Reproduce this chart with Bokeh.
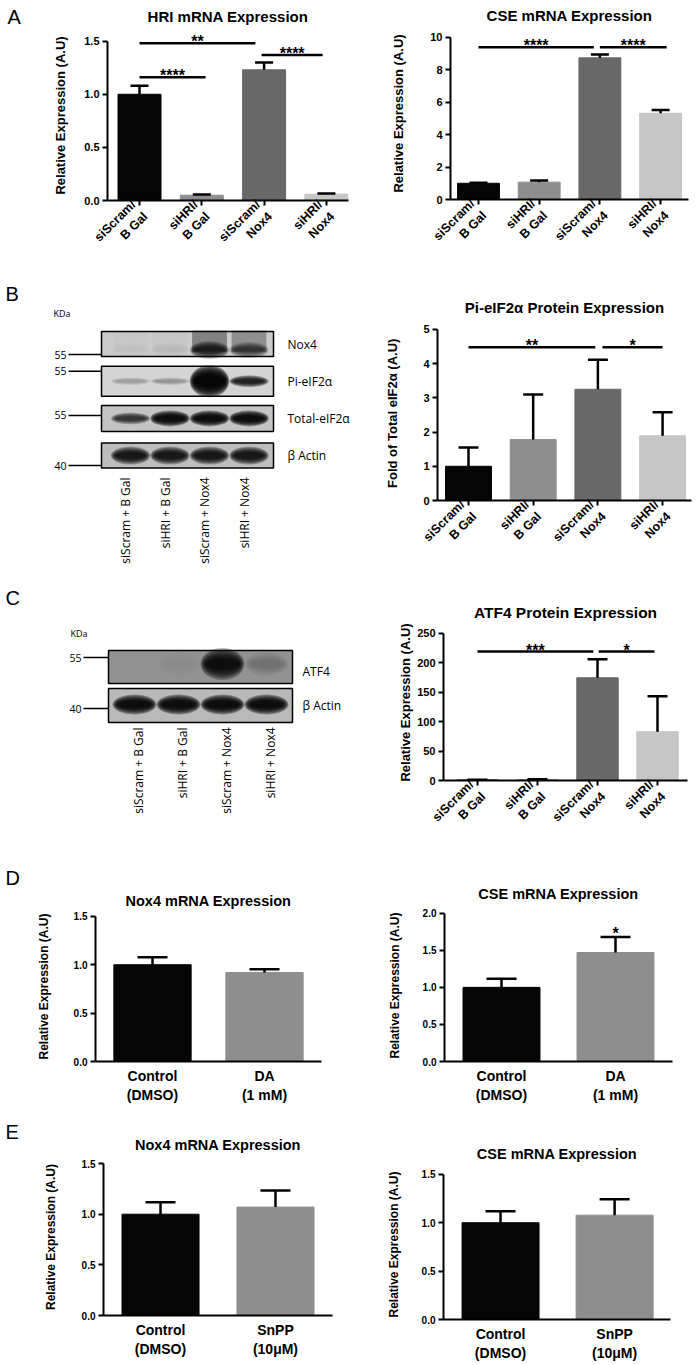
import math
from bokeh.plotting import figure
from bokeh.models import Range1d, FixedTicker, NumeralTickFormatter, ColumnDataSource
from bokeh.layouts import column, row
from bokeh.core.properties import value
from bokeh.embed import file_html
from bokeh.resources import INLINE

# ---------------- data ----------------
sirna_groups = ["siScram/\nB Gal", "siHRI/\nB Gal", "siScram/\nNox4", "siHRI/\nNox4"]
hri_mrna = [1.00, 0.05, 1.23, 0.06]
hri_mrna_sem = [0.08, 0.006, 0.07, 0.006]
cse_mrna_sirna = [1.00, 1.07, 8.73, 5.31]
cse_mrna_sirna_sem = [0.03, 0.10, 0.21, 0.20]
pi_eif2a = [1.00, 1.78, 3.25, 1.89]
pi_eif2a_sem = [0.55, 1.32, 0.86, 0.69]
atf4_protein = [0.8, 1.2, 174.5, 83.0]
atf4_protein_sem = [0.3, 0.9, 31.5, 60.0]

da_groups = ["Control\n(DMSO)", "DA\n(1 mM)"]
nox4_mrna_da = [1.00, 0.92]
nox4_mrna_da_sem = [0.076, 0.032]
cse_mrna_da = [1.00, 1.47]
cse_mrna_da_sem = [0.117, 0.21]

snpp_groups = ["Control\n(DMSO)", "SnPP\n(10\u03bcM)"]
nox4_mrna_snpp = [1.00, 1.07]
nox4_mrna_snpp_sem = [0.118, 0.163]
cse_mrna_snpp = [1.00, 1.078]
cse_mrna_snpp_sem = [0.118, 0.164]

# significance brackets: (from group, to group, height, label)
hri_sig = [(0.0, 1.06, 1.16, "****"), (0.0, 1.86, 1.48, "**"), (1.96, 2.94, 1.37, "****")]
cse_sirna_sig = [(0.0, 1.9, 9.39, "****"), (2.0, 3.1, 9.39, "****")]
pi_sig = [(0.0, 1.96, 4.48, "**"), (2.07, 3.0, 4.48, "*")]
atf4_sig = [(0.0, 1.93, 219.0, "***"), (2.02, 2.95, 219.0, "*")]
cse_da_star = [(1, 1.72, "*")]

panel_letters = ["A", "B", "C", "D", "E"]

blot_lanes = ["siScram + B Gal", "siHRI + B Gal", "siScram + Nox4", "siHRI + Nox4"]
blot_b_proteins = ["Nox4", "Pi-eIF2\u03b1", "Total-eIF2\u03b1", "\u03b2 Actin"]
blot_b_kda = ["55", "55", "55", "40"]
nox4_band = [0.04, 0.05, 0.80, 0.65]
pi_eif2a_band = [0.25, 0.30, 1.00, 0.85]
total_eif2a_band = [0.75, 0.95, 0.95, 0.95]
actin_b_band = [0.90, 0.90, 0.90, 0.90]
blot_c_proteins = ["ATF4", "\u03b2 Actin"]
blot_c_kda = ["55", "40"]
atf4_band = [0.0, 0.02, 0.92, 0.20]
actin_c_band = [0.95, 0.95, 0.95, 0.95]

# ---------------- style ----------------
FONT = "Liberation Sans"
BFONT = "Open Sans"
BAR_COLORS = ["#050505", "#8e8e8e", "#686868", "#c6c6c6"]
LETTER_W = 22
LX = LETTER_W      # left edge of the left-hand panels (page starts at 0)
MID = 358          # split between left and right panels
RX = 698           # right edge


def base_fig(w, h, xr, yr, **kw):
    p = figure(width=w, height=h, x_range=Range1d(*xr), y_range=Range1d(*yr),
               output_backend="svg", toolbar_location=None, frame_align=False, **kw)
    p.outline_line_color = None
    return p


def letter_fig(y0, y1, letter, lx, ly):
    h = y1 - y0
    p = base_fig(LETTER_W, h, (0, LETTER_W), (h, 0), x_axis_type=None, y_axis_type=None,
                 min_border=0, title=None)
    p.text(x=[lx], y=[ly - y0], text=[letter], text_align="left", text_baseline="middle",
           text_font=value(FONT), text_font_size="20px", text_color="black")
    return p


def bar_chart(box, frame, xr, y_end, yticks, y_bound, fmt, groups, means, sems,
              bar_w, cap_px, ylabel, ylab_size, ylab_standoff, tick_size,
              title, title_standoff, rotate, xlab_size, x_tick_out, sigs=(), stars=(),
              title_size="15px", title_offset=0):
    x0, y0, x1, y1 = box
    fl, ft, fr, fb = frame
    p = base_fig(x1 - x0, y1 - y0, xr, (0, y_end),
                 min_border_left=fl - x0, min_border_right=x1 - fr,
                 min_border_top=ft - y0, min_border_bottom=y1 - fb, title=title)
    p.grid.visible = False
    p.title.align = "center"
    p.title.text_font = FONT
    p.title.text_font_style = "bold"
    p.title.text_font_size = title_size
    p.title.text_color = "black"
    p.title.standoff = title_standoff
    p.title.offset = title_offset
    sx = (fr - fl) / (xr[1] - xr[0])
    sy = (fb - ft) / y_end

    n = len(groups)
    xs = list(range(n))
    ch = cap_px / 2 / sx
    src = ColumnDataSource(dict(
        x=xs, top=means, color=BAR_COLORS[:n],
        up=[m + e for m, e in zip(means, sems)],
        cl=[x - ch for x in xs], cr=[x + ch for x in xs]))
    p.vbar(x="x", top="top", width=bar_w, fill_color="color", line_color="color", source=src)
    p.segment(x0="x", y0="top", x1="x", y1="up", line_color="black", line_width=2.5, source=src)
    p.segment(x0="cl", y0="up", x1="cr", y1="up", line_color="black", line_width=2.5, source=src)

    for a, b, h, t in sigs:
        p.segment(x0=[a], y0=[h], x1=[b], y1=[h], line_color="black", line_width=2.5)
        p.text(x=[(a + b) / 2], y=[h + 1.5 / sy], text=[t], text_align="center",
               text_baseline="alphabetic", text_font=value(FONT), text_font_style="bold",
               text_font_size="16px", text_color="black")
    for gx, h, t in stars:
        p.text(x=[gx], y=[h], text=[t], text_align="center", text_baseline="alphabetic",
               text_font=value(FONT), text_font_style="bold", text_font_size="16px",
               text_color="black")

    ya = p.yaxis[0]
    xa = p.xaxis[0]
    ya.ticker = FixedTicker(ticks=yticks)
    ya.bounds = (0, y_bound)
    ya.formatter = NumeralTickFormatter(format=fmt)
    ya.axis_label = ylabel
    ya.axis_label_text_font = FONT
    ya.axis_label_text_font_style = "bold"
    ya.axis_label_text_font_size = ylab_size
    ya.axis_label_standoff = ylab_standoff
    ya.axis_label_text_color = "black"
    ya.major_tick_out = 5
    ya.major_tick_in = 0
    ya.major_label_standoff = 3
    ya.major_label_text_font_size = tick_size

    xa.ticker = FixedTicker(ticks=xs)
    xa.major_label_overrides = {i: g for i, g in enumerate(groups)}
    xa.major_label_orientation = math.pi / 4 if rotate else "horizontal"
    xa.major_label_text_font_size = xlab_size
    xa.major_tick_out = x_tick_out
    xa.major_tick_in = 0
    xa.major_label_standoff = 3 if rotate else 6
    for ax in (xa, ya):
        ax.axis_line_width = 2
        ax.axis_line_color = "black"
        ax.major_tick_line_width = 2
        ax.major_tick_line_color = "black"
        ax.minor_tick_line_color = None
        ax.major_label_text_font = FONT
        ax.major_label_text_font_style = "bold"
        ax.major_label_text_color = "black"
    return p


def blot_panel(box, lane0, lane_step, row0, row_step, box_lr, rows, lane_label_top,
               lane_label_dx, kda_pos, kda_num_x, kda_line_x0, prot_x):
    x0, y0, x1, y1 = box
    xr = ((x0 - lane0) / lane_step, (x1 - lane0) / lane_step)
    yr = ((y1 - row0) / row_step, (y0 - row0) / row_step)
    p = base_fig(x1 - x0, y1 - y0, xr, yr, x_axis_type=None, y_axis_type=None,
                 min_border=0, title=None)

    def L(px):
        return (px - lane0) / lane_step

    def R(dpx):
        return dpx / row_step

    layers = 7
    bl, br = L(box_lr[0]), L(box_lr[1])
    for r, spec in enumerate(rows):
        bh = R(spec["box_h"])
        p.rect(x=[(bl + br) / 2], y=[r], width=[br - bl], height=[bh],
               fill_color=spec["bg"], line_color=None)
        for i, v in enumerate(spec["bands"]):
            if v <= 0:
                continue
            h = R(spec["heights"][i])
            yc = r + R(spec["dy"])
            if spec.get("smear"):
                p.rect(x=[i], y=[r - R(3)], width=[0.88], height=[bh * 0.85],
                       fill_color="black", fill_alpha=0.45 * v, line_color=None)
            a = 1 - (1 - 0.97 * v) ** (1.0 / layers)
            for k in range(layers):
                f = k / (layers - 1)
                p.ellipse(x=[i], y=[yc], width=[1.0 - 0.25 * f], height=[h * (2.0 - 1.3 * f)],
                          fill_color="black", fill_alpha=a, line_color=None)
        p.rect(x=[(bl + br) / 2], y=[r], width=[br - bl], height=[bh],
               fill_color=None, line_color="black", line_width=1.5)
        ky = r + R(spec["kda_dy"])
        p.segment(x0=[L(kda_line_x0)], y0=[ky], x1=[bl], y1=[ky], line_color="black",
                  line_width=1.5)
        p.text(x=[L(kda_num_x)], y=[ky], text=[spec["kda"]], text_align="right",
               text_baseline="middle", text_font=value(BFONT), text_font_size="10.5px",
               text_color="black")
        p.text(x=[L(prot_x)], y=[r + R(spec.get("label_dy", 0))], text=[spec["name"]],
               text_align="left", text_baseline="middle", text_font=value(BFONT),
               text_font_size="12px", text_color="black")

    ly = (lane_label_top - row0) / row_step
    p.text(x=[i + lane_label_dx for i in range(len(blot_lanes))], y=[ly] * len(blot_lanes),
           text=blot_lanes, angle=math.pi / 2, text_align="right", text_baseline="middle",
           text_font=value(BFONT), text_font_size="12px", text_color="black")
    p.text(x=[L(kda_pos[0])], y=[(kda_pos[1] - row0) / row_step], text=["KDa"],
           text_align="left", text_baseline="middle", text_font=value(BFONT),
           text_font_size="9px", text_color="black")
    return p


# ---------------- Row A ----------------
la = letter_fig(0, 270, panel_letters[0], 7, 16)
a1 = bar_chart(box=(LX, 0, MID, 270), frame=(107, 29, 348, 203), xr=(-0.514, 3.355), y_end=1.6,
               yticks=[0, 0.5, 1.0, 1.5], y_bound=1.5, fmt="0.0", groups=sirna_groups,
               means=hri_mrna, sems=hri_mrna_sem, bar_w=0.69, cap_px=18,
               ylabel="Relative Expression (A.U)", ylab_size="13px", ylab_standoff=13,
               tick_size="11px", title="HRI mRNA Expression", title_standoff=11,
               rotate=True, xlab_size="12.5px", x_tick_out=5, sigs=hri_sig, title_offset=3)
a2 = bar_chart(box=(MID, 0, RX, 270), frame=(450, 26, 688, 199), xr=(-0.461, 3.46), y_end=10.6,
               yticks=[0, 2, 4, 6, 8, 10], y_bound=10, fmt="0", groups=sirna_groups,
               means=cse_mrna_sirna, sems=cse_mrna_sirna_sem, bar_w=0.69, cap_px=18,
               ylabel="Relative Expression (A.U)", ylab_size="13px", ylab_standoff=21,
               tick_size="11px", title="CSE mRNA Expression", title_standoff=8,
               rotate=True, xlab_size="12.5px", x_tick_out=5, sigs=cse_sirna_sig)

# ---------------- Row B ----------------
b_rows = [
    dict(name=blot_b_proteins[0], kda=blot_b_kda[0], bands=nox4_band, heights=[8, 8, 9, 8],
         dy=6, bg="#cbcbcb", box_h=25, kda_dy=10.5, smear=True),
    dict(name=blot_b_proteins[1], kda=blot_b_kda[1], bands=pi_eif2a_band, heights=[4, 4, 16, 6],
         dy=0, bg="#d4d4d4", box_h=30, kda_dy=-10),
    dict(name=blot_b_proteins[2], kda=blot_b_kda[2], bands=total_eif2a_band, heights=[6, 8, 8, 8],
         dy=0, bg="#c4c4c4", box_h=26, kda_dy=-3),
    dict(name=blot_b_proteins[3], kda=blot_b_kda[3], bands=actin_b_band, heights=[9, 9, 9, 9],
         dy=0, bg="#bdbdbd", box_h=25, kda_dy=10),
]
lb = letter_fig(270, 580, panel_letters[1], 5, 293)
b1 = blot_panel(box=(LX, 270, MID, 580), lane0=130, lane_step=39.5, row0=343.5, row_step=37.2,
                box_lr=(101, 273), rows=b_rows, lane_label_top=477, lane_label_dx=-0.12,
                kda_pos=(53, 313), kda_num_x=66, kda_line_x0=68, prot_x=287)
b2 = bar_chart(box=(MID, 270, RX, 580), frame=(437, 322, 691, 500), xr=(-0.479, 3.447), y_end=5.2,
               yticks=[0, 1, 2, 3, 4, 5], y_bound=5, fmt="0", groups=sirna_groups,
               means=pi_eif2a, sems=pi_eif2a_sem, bar_w=0.71, cap_px=20,
               ylabel="Fold of Total eIF2\u03b1  (A.U)", ylab_size="13px", ylab_standoff=20,
               tick_size="11px", title="Pi-eIF2\u03b1 Protein Expression", title_standoff=14,
               rotate=True, xlab_size="12.5px", x_tick_out=5, sigs=pi_sig)

# ---------------- Row C ----------------
c_rows = [
    dict(name=blot_c_proteins[0], kda=blot_c_kda[0], bands=atf4_band, heights=[14, 14, 16, 12],
         dy=-3, bg="#929292", box_h=33, kda_dy=-9.5, label_dy=4),
    dict(name=blot_c_proteins[1], kda=blot_c_kda[1], bands=actin_c_band, heights=[10, 10, 10, 10],
         dy=-1, bg="#b9b9b9", box_h=34, kda_dy=3),
]
lc = letter_fig(580, 850, panel_letters[2], 5, 597)
c1 = blot_panel(box=(LX, 580, MID, 850), lane0=134, lane_step=44, row0=666.5, row_step=38.5,
                box_lr=(108, 292), rows=c_rows, lane_label_top=727, lane_label_dx=0.1,
                kda_pos=(70, 633), kda_num_x=81, kda_line_x0=83, prot_x=302)
c2 = bar_chart(box=(MID, 580, RX, 850), frame=(443, 624, 687, 794), xr=(-0.567, 3.5), y_end=265,
               yticks=[0, 50, 100, 150, 200, 250], y_bound=250, fmt="0", groups=sirna_groups,
               means=atf4_protein, sems=atf4_protein_sem, bar_w=0.69, cap_px=20,
               ylabel="Relative Expression (A.U)", ylab_size="13px", ylab_standoff=1,
               tick_size="11px", title="ATF4 Protein Expression", title_standoff=8,
               rotate=True, xlab_size="12.5px", x_tick_out=5, sigs=atf4_sig,
               title_size="15.5px")

# ---------------- Row D ----------------
ld = letter_fig(850, 1105, panel_letters[3], 5, 877)
d1 = bar_chart(box=(LX, 850, MID, 1105), frame=(95, 911, 321, 1066), xr=(-0.509, 1.509), y_end=1.55,
               yticks=[0, 0.5, 1.0, 1.5], y_bound=1.5, fmt="0.0", groups=da_groups,
               means=nox4_mrna_da, sems=nox4_mrna_da_sem, bar_w=0.69, cap_px=30,
               ylabel="Relative Expression (A.U)", ylab_size="12px", ylab_standoff=20,
               tick_size="10px", title="Nox4 mRNA Expression", title_standoff=5,
               rotate=False, xlab_size="14px", x_tick_out=0, title_size="14.5px")
d2 = bar_chart(box=(MID, 850, RX, 1105), frame=(444, 909, 672, 1064), xr=(-0.5, 1.5), y_end=2.05,
               yticks=[0, 0.5, 1.0, 1.5, 2.0], y_bound=2.0, fmt="0.0", groups=da_groups,
               means=cse_mrna_da, sems=cse_mrna_da_sem, bar_w=0.675, cap_px=30,
               ylabel="Relative Expression (A.U)", ylab_size="12px", ylab_standoff=18,
               tick_size="10px", title="CSE mRNA Expression", title_standoff=15,
               rotate=False, xlab_size="14px", x_tick_out=0, stars=cse_da_star,
               title_size="14.5px")

# ---------------- Row E ----------------
le = letter_fig(1105, 1363, panel_letters[4], 5, 1131)
e1 = bar_chart(box=(LX, 1105, MID, 1363), frame=(103, 1158, 332, 1315), xr=(-0.496, 1.496), y_end=1.55,
               yticks=[0, 0.5, 1.0, 1.5], y_bound=1.5, fmt="0.0", groups=snpp_groups,
               means=nox4_mrna_snpp, sems=nox4_mrna_snpp_sem, bar_w=0.67, cap_px=30,
               ylabel="Relative Expression (A.U)", ylab_size="12px", ylab_standoff=21,
               tick_size="10px", title="Nox4 mRNA Expression", title_standoff=12,
               rotate=False, xlab_size="14px", x_tick_out=0, title_size="14.5px", title_offset=9)
e2 = bar_chart(box=(MID, 1105, RX, 1363), frame=(443, 1169, 670, 1323), xr=(-0.5, 1.49), y_end=1.55,
               yticks=[0, 0.5, 1.0, 1.5], y_bound=1.5, fmt="0.0", groups=snpp_groups,
               means=cse_mrna_snpp, sems=cse_mrna_snpp_sem, bar_w=0.675, cap_px=30,
               ylabel="Relative Expression (A.U)", ylab_size="12px", ylab_standoff=18,
               tick_size="10px", title="CSE mRNA Expression", title_standoff=15,
               rotate=False, xlab_size="14px", x_tick_out=0, title_size="14.5px")

layout = column(row(la, a1, a2), row(lb, b1, b2), row(lc, c1, c2),
                row(ld, d1, d2), row(le, e1, e2))
open("out.html", "w").write(file_html(layout, INLINE))
